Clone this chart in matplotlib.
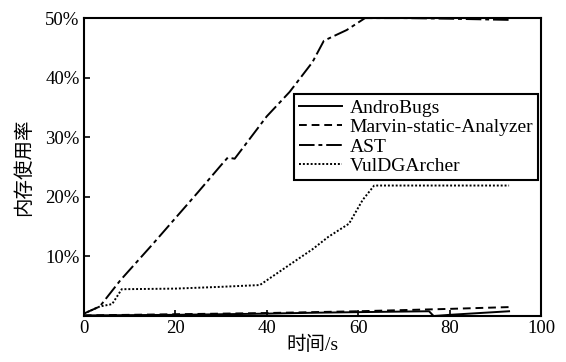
import matplotlib
matplotlib.use("Agg")
import matplotlib.pyplot as plt
from matplotlib.ticker import FixedLocator

plt.rcParams['font.family'] = ['Liberation Serif', 'Noto Sans CJK SC']

# AndroBugs
andro_x = [0, 10, 20, 30, 40, 50, 60, 70, 75.5, 76.5, 80, 93]
andro_y = [0.1, 0.15, 0.2, 0.3, 0.4, 0.55, 0.65, 0.75, 0.8, 0.0, 0.2, 0.8]

# Marvin-static-Analyzer
marvin_x = [0, 10, 20, 30, 40, 50, 60, 70, 80, 93]
marvin_y = [0.1, 0.2, 0.3, 0.4, 0.5, 0.65, 0.8, 1.0, 1.2, 1.5]

# AST
ast_x = [0, 3.5, 8, 15, 20, 25, 30, 31.5, 33, 40, 45, 50, 52.5, 57.5, 61.5, 70, 80, 93]
ast_y = [0.4, 1.6, 6.0, 12.0, 16.4, 20.8, 25.3, 26.6, 26.4, 33.5, 37.6, 42.6, 46.2, 48.0, 50.0, 50.0, 49.9, 49.7]

# VulDGArcher
vul_x = [0, 3.5, 6.2, 8.3, 20, 30, 38.5, 45, 50, 53.5, 58, 61, 63.5, 70, 80, 93]
vul_y = [0.4, 1.6, 2.0, 4.5, 4.6, 4.9, 5.2, 8.6, 11.2, 13.3, 15.5, 19.5, 21.9, 21.9, 21.9, 21.9]

fig = plt.figure(figsize=(5.66, 3.62), dpi=100)
ax = fig.add_axes([0.148, 0.127, 0.808, 0.823])

lw = 1.4
ax.plot(andro_x, andro_y, color='black', lw=lw, linestyle='-', label='AndroBugs')
ax.plot(marvin_x, marvin_y, color='black', lw=lw, linestyle=(0, (4, 2.5)), label='Marvin-static-Analyzer')
ax.plot(ast_x, ast_y, color='black', lw=lw, linestyle=(0, (8, 2, 2, 2)), label='AST')
ax.plot(vul_x, vul_y, color='black', lw=lw, linestyle=(0, (1, 1)), label='VulDGArcher')

ax.set_xlim(0, 100)
ax.set_ylim(0, 50)
ax.xaxis.set_major_locator(FixedLocator([0, 20, 40, 60, 80, 100]))
ax.yaxis.set_major_locator(FixedLocator([10, 20, 30, 40, 50]))
ax.set_yticklabels(['10%', '20%', '30%', '40%', '50%'])
ax.tick_params(direction='in', length=4, width=1.2, labelsize=13.5, pad=3)

for s in ax.spines.values():
    s.set_linewidth(1.5)

ax.set_xlabel('时间/s', fontsize=14, labelpad=-1)
ax.set_ylabel('内存使用率', fontsize=14, labelpad=9)

leg = ax.legend(loc='upper left', bbox_to_anchor=(0.46, 0.745), fontsize=14,
                frameon=True, fancybox=False, framealpha=1, edgecolor='black',
                handlelength=2.2, labelspacing=0.1, borderpad=0.25,
                handletextpad=0.4, borderaxespad=0)
leg.get_frame().set_linewidth(1.5)

fig.savefig('out.png', dpi=100)
